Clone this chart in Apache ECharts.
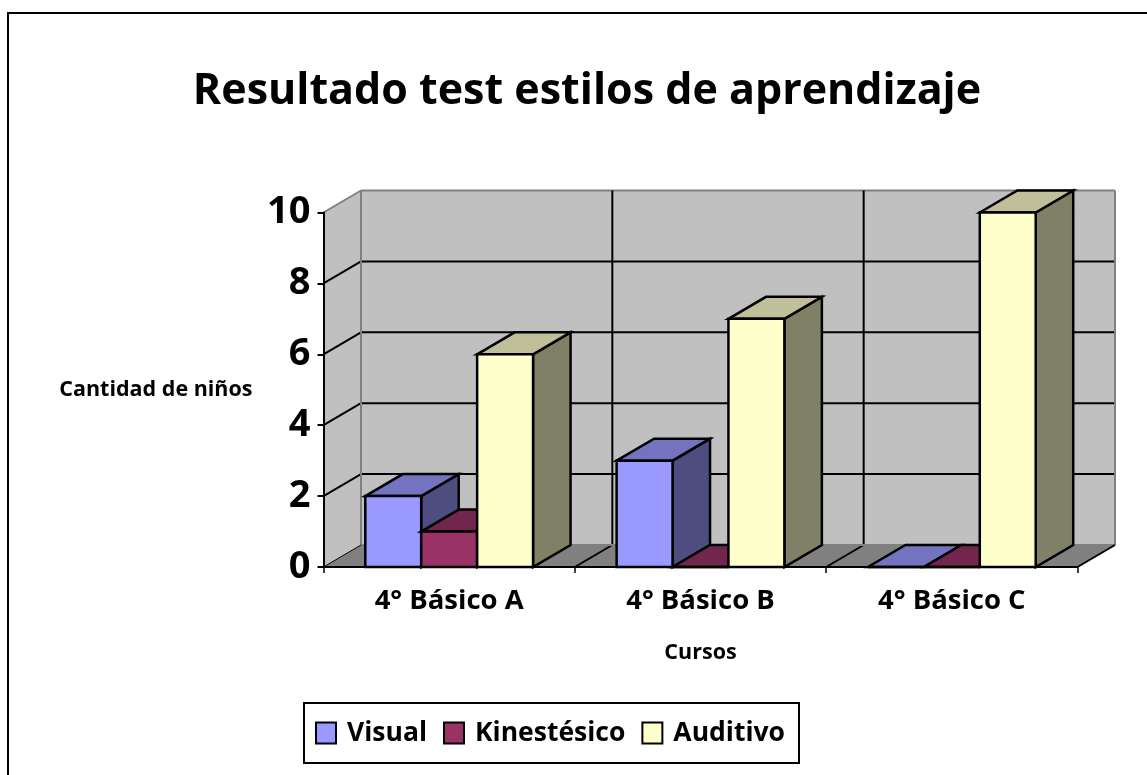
<!DOCTYPE html>
<html><head><meta charset="utf-8">
<style>html,body{margin:0;padding:0;background:#fff}#c{width:1147px;height:775px}</style>
<script src="https://cdn.jsdelivr.net/npm/echarts@6/dist/echarts.min.js"></script>
</head><body><div id="c"></div>
<script>
const categories = ['4° Básico A', '4° Básico B', '4° Básico C'];
const visual = [2, 3, 0];
const kinestesico = [1, 0, 0];
const auditivo = [6, 7, 10];
const yTicks = [0, 2, 4, 6, 8, 10];

const FONT = '"Open Sans"';
const DX = 37.5, DY = -22;
const poly = (pts, fill, stroke, lw) => ({type:'polygon', shape:{points:pts}, style:{fill:fill, stroke:stroke||'#000', lineWidth:lw||2.5, lineJoin:'miter'}});
const line = (a, b, stroke, lw) => ({type:'line', shape:{x1:a[0],y1:a[1],x2:b[0],y2:b[1]}, style:{stroke:stroke||'#000', lineWidth:lw||2}});

function renderWalls(params, api) {
  const g = params.coordSys, L = g.x, R = g.x + g.width;
  const y0 = api.coord([0, 0])[1], yT = api.coord([0, 10])[1];
  const ch = [];
  ch.push(poly([[L,y0],[L+DX,y0+DY],[L+DX,yT+DY],[L,yT]], '#C0C0C0', 'none', 0));
  ch.push(poly([[L+DX,y0+DY],[R+DX,y0+DY],[R+DX,yT+DY],[L+DX,yT+DY]], '#C0C0C0', 'none', 0));
  ch.push(poly([[L,y0],[R,y0],[R+DX,y0+DY],[L+DX,y0+DY]], '#808080', 'none', 0));
  yTicks.forEach(t => {
    if (t === 0) return;
    const y = api.coord([0, t])[1];
    const c = t === 10 ? '#808080' : '#000';
    ch.push(line([L,y],[L+DX,y+DY],c,2));
    ch.push(line([L+DX,y+DY],[R+DX,y+DY],c,2));
  });
  categories.forEach((_, i) => {
    if (i === 0) return;
    const x = g.x + g.width * i / categories.length;
    ch.push(line([x+DX,y0+DY],[x+DX,yT+DY],'#000',2));
    ch.push(line([x,y0],[x+DX,y0+DY],'#000',2));
  });
  ch.push(line([L+DX,y0+DY],[L+DX,yT+DY],'#808080',2));
  ch.push(line([R+DX,y0+DY],[R+DX,yT+DY],'#808080',2));
  ch.push(line([L+DX,y0+DY],[R+DX,y0+DY],'#808080',2));
  ch.push(line([R,y0],[R+DX,y0+DY],'#000',2));
  ch.push(line([L,y0],[L+DX,y0+DY],'#000',1));
  return {type:'group', children:ch};
}

function barRenderer(idx, front, top, side) {
  return function (params, api) {
    const c = api.value(0), v = api.value(1);
    const base = api.coord([c, 0]), tip = api.coord([c, v]);
    const band = api.size([1, 0])[0];
    const w = band * 0.2225;
    const x0 = base[0] + (idx - 1.5) * w, x1 = x0 + w;
    const y0 = base[1], y1 = tip[1];
    return {type:'group', children:[
      poly([[x1,y1],[x1+DX,y1+DY],[x1+DX,y0+DY],[x1,y0]], side),
      poly([[x0,y1],[x0+DX,y1+DY],[x1+DX,y1+DY],[x1,y1]], top),
      poly([[x0,y1],[x1,y1],[x1,y0],[x0,y0]], front)
    ]};
  };
}
const pairs = arr => arr.map((v, i) => [i, v]);
const mk = (name, arr, idx, front, top, side) => ({
  name, type:'custom', data:pairs(arr), coordinateSystem:'cartesian2d', clip:false,
  encode:{x:0, y:1}, itemStyle:{color:front}, renderItem:barRenderer(idx, front, top, side)
});

const chart = echarts.init(document.getElementById('c'), null, {renderer:'canvas'});
chart.setOption({
  animation:false,
  backgroundColor:'#fff',
  textStyle:{fontFamily:FONT},
  graphic:[{type:'rect', z:-1, shape:{x:8,y:13,width:1160,height:790}, style:{fill:'#fff', stroke:'#000', lineWidth:2}}],
  title:{text:'Resultado test estilos de aprendizaje', left:582, top:65, textAlign:'center',
    textStyle:{fontFamily:FONT, fontWeight:'bold', fontSize:43, color:'#000'}},
  grid:{left:323.5, top:212.5, width:754, height:354.5, containLabel:false},
  legend:{data:['Visual','Kinestésico','Auditivo'], left:304, top:703, orient:'horizontal',
    icon:'rect', itemWidth:20, itemHeight:21, itemGap:16, padding:[16.5,14,16.5,11],
    backgroundColor:'#fff', borderColor:'#000', borderWidth:2,
    itemStyle:{borderColor:'#000', borderWidth:2},
    textStyle:{fontFamily:FONT, fontWeight:'bold', fontSize:26.5, color:'#000', padding:[4,0,0,6]}},
  xAxis:{type:'category', data:categories, z:5, name:'Cursos', nameLocation:'middle', nameGap:75,
    nameTextStyle:{fontFamily:FONT, fontWeight:'bold', fontSize:21.5, color:'#000', verticalAlign:'top'},
    axisLine:{lineStyle:{color:'#000', width:2}},
    axisTick:{show:true, length:6, lineStyle:{color:'#000', width:1.5}},
    axisLabel:{margin:20, color:'#000', fontFamily:FONT, fontWeight:'bold', fontSize:27.5}},
  yAxis:{type:'value', min:0, max:10, interval:2, z:5, name:'Cantidad de niños', nameLocation:'middle', nameRotate:0, nameGap:71,
    nameTextStyle:{fontFamily:FONT, fontWeight:'bold', fontSize:21.5, color:'#000', padding:[6,0,0,0]},
    axisLine:{show:true, lineStyle:{color:'#000', width:2}},
    axisTick:{show:true, length:6, lineStyle:{color:'#000', width:2}},
    splitLine:{show:false},
    axisLabel:{margin:13, color:'#000', fontFamily:FONT, fontWeight:'bold', fontSize:38, padding:[8,0,0,0]}},
  series:[
    {name:'walls', type:'custom', coordinateSystem:'cartesian2d', clip:false, z:1, silent:true,
     data:[[0,0]], encode:{x:0,y:1}, renderItem:renderWalls},
    mk('Visual', visual, 0, '#9999FF', '#7373BF', '#4D4D80'),
    mk('Kinestésico', kinestesico, 1, '#993366', '#73264D', '#4D1A33'),
    mk('Auditivo', auditivo, 2, '#FFFFCC', '#BFBF99', '#808066')
  ]
});
</script></body></html>
